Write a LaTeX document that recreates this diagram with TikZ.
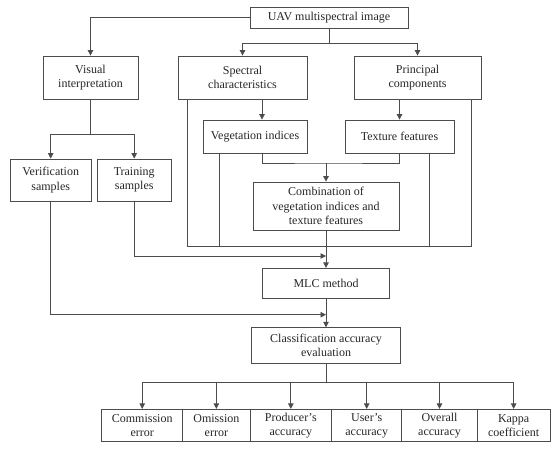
\documentclass[tikz,border=0pt]{standalone}
\usepackage{fontspec}
\setmainfont{Liberation Serif}
\usetikzlibrary{arrows.meta}
\begin{document}
\begin{tikzpicture}[x=1pt,y=-1pt,
 box/.style={draw=black!70, line width=0.8pt, align=center, inner sep=0pt, font=\fontsize{12}{14.2}\selectfont, text=black!85},
 conn/.style={draw=black!70, line width=0.8pt},
 arr/.style={conn, -{Triangle[length=5.5pt,width=5.5pt]}}]
\useasboundingbox (0,0) rectangle (553,452);
% nodes
\node[box, minimum width=158pt, minimum height=21pt] (uav) at (329,17.5) {UAV multispectral image};
\node[box, minimum width=95pt, minimum height=43pt] (vis) at (90.5,77.5) {Visual\\interpretation};
\node[box, minimum width=129pt, minimum height=43pt] (spec) at (242.5,77.5) {Spectral\\characteristics};
\node[box, minimum width=127pt, minimum height=43pt] (pc) at (417.5,77.5) {Principal\\components};
\node[box, minimum width=104pt, minimum height=33pt] (veg) at (255,136.5) {Vegetation indices};
\node[box, minimum width=109pt, minimum height=33pt] (tex) at (399.5,136.5) {Texture features};
\node[box, minimum width=81pt, minimum height=42pt] (ver) at (50.7,180) {Verification\\samples};
\node[box, minimum width=74pt, minimum height=42pt] (tra) at (134.2,180) {Training\\samples};
\node[box, minimum width=146pt, minimum height=48pt] (comb) at (326,206) {Combination of\\vegetation indices and\\texture features};
\node[box, minimum width=127pt, minimum height=30.4pt] (mlc) at (326,283.5) {MLC method};
\node[box, minimum width=149pt, minimum height=36pt] (cls) at (326,345.7) {Classification accuracy\\evaluation};
\node[box, minimum width=81pt, minimum height=32.4pt] (e1) at (142.2,425.5) {Commission\\error};
\node[box, minimum width=67.3pt, minimum height=32.4pt] (e2) at (216.35,425.5) {Omission\\error};
\node[box, minimum width=81.7pt, minimum height=32.4pt] (e3) at (290.85,425.5) {Producer's\\accuracy};
\node[box, minimum width=70pt, minimum height=32.4pt] (e4) at (366.7,425.5) {User's\\accuracy};
\node[box, minimum width=75.6pt, minimum height=32.4pt] (e5) at (439.5,425.5) {Overall\\accuracy};
\node[box, minimum width=72.7pt, minimum height=32.4pt] (e6) at (513.65,425.5) {Kappa\\coefficient};
% junctions
\coordinate (j1) at (329,43);
\coordinate (j2) at (326,163);
\coordinate (brk) at (326,246);
\coordinate (jt) at (326,256);
\coordinate (jv) at (326,314.7);
\coordinate (j4) at (326,382.3);
\coordinate (jvis) at (90.5,134);
% connectors
\draw[arr] (uav.west) -| (vis.north);
\draw[conn] (uav.south) -- (j1);
\draw[arr] (j1) -| (spec.north);
\draw[arr] (j1) -| (pc.north);
\draw[arr] ([xshift=7pt]veg.north |- spec.south) -- ([xshift=7pt]veg.north);
\draw[arr] (tex.north |- pc.south) -- (tex.north);
\draw[conn] ([xshift=7pt]veg.south) |- (j2) -| (tex.south);
\draw[arr] (j2) -- (comb.north);
\draw[conn] ([xshift=-55.5pt]spec.south) |- (brk) -| ([xshift=53.5pt]pc.south);
\draw[conn] ([xshift=-36pt]veg.south) |- (brk);
\draw[conn] ([xshift=29.5pt]tex.south) |- (brk);
\draw[conn] (vis.south) -- (jvis);
\draw[arr] (jvis) -| (ver.north);
\draw[arr] (jvis) -| (tra.north);
\draw[arr] (comb.south) -- (mlc.north);
\draw[arr] (tra.south) |- (jt);
\draw[arr] (mlc.south) -- (cls.north);
\draw[arr] (ver.south) |- (jv);
\draw[conn] (cls.south) -- (j4);
\foreach \e in {e1,e2,e3,e4,e5,e6} {\draw[arr] (j4) -| (\e.north);}
\end{tikzpicture}
\end{document}
